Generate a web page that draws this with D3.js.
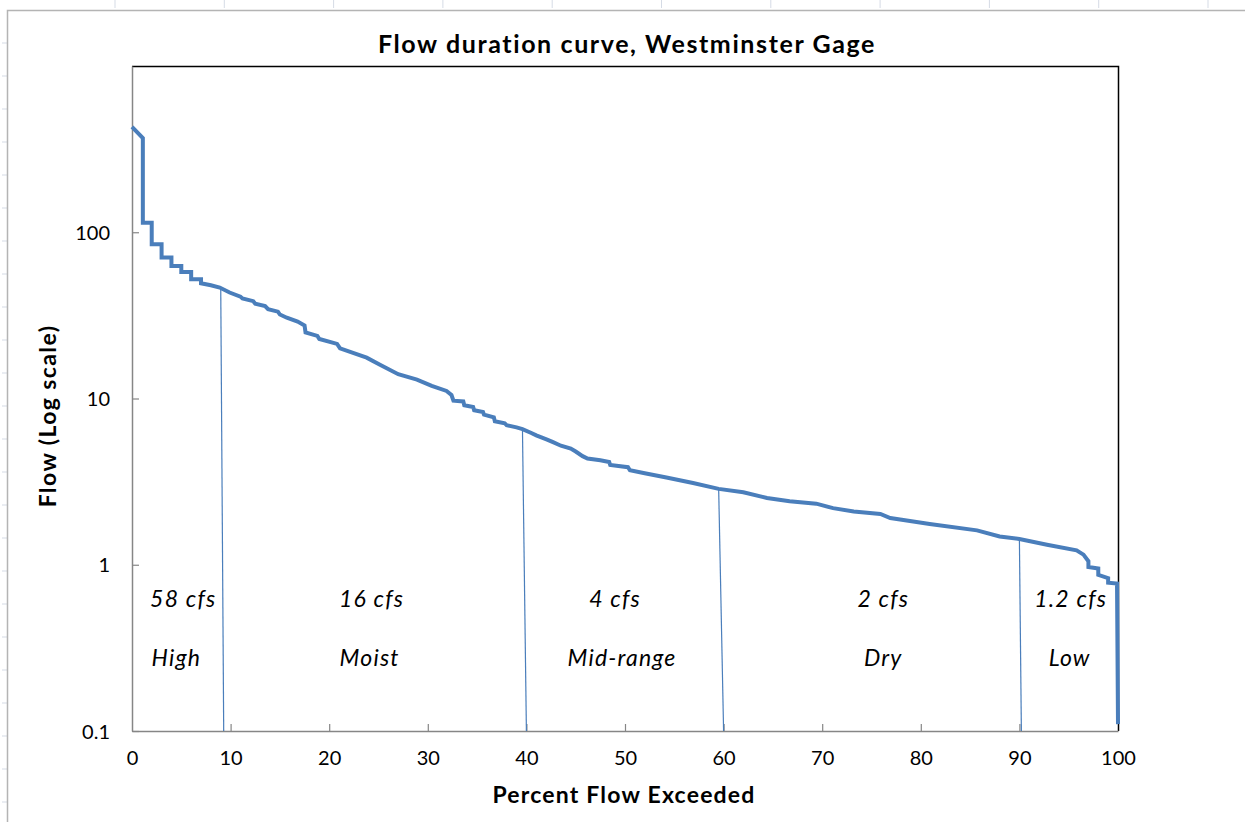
<!DOCTYPE html>
<html>
<head>
<meta charset="utf-8">
<script src="https://cdn.jsdelivr.net/npm/d3@7"></script>
<style>
  html, body { margin: 0; padding: 0; background: #ffffff; }
  svg { display: block; font-family: Lato, "Open Sans", sans-serif; }
</style>
</head>
<body>
<svg id="chart" width="1245" height="822"></svg>
<script>
// Flow duration curve: percent of time flow is exceeded vs. flow (cfs)
const pctExceeded = [
  0, 1.1, 1.1, 2.0, 2.0, 3.0, 3.0, 4.0, 4.0, 5.0, 5.0, 6.0, 6.0, 7.0, 7.0, 8.0, 8.9, 9.9,
  11.0, 11.2, 12.3, 12.5, 13.5, 13.8, 14.8, 15.0, 15.7, 16.8, 17.5, 17.6, 18.8, 19.0,
  20.8, 21.1, 23.8, 25.1, 27.0, 28.9, 30.4, 31.9, 32.4, 32.6, 33.6, 33.7, 34.6, 34.7,
  35.6, 35.7, 36.7, 36.8, 37.8, 38.0, 39.0, 39.6, 40.5, 41.0, 42.1, 42.7, 43.5, 44.5,
  45.0, 45.7, 46.2, 47.5, 48.4, 48.5, 50.3, 50.5, 52.0, 54.2, 56.9, 59.5, 62.0, 64.4,
  66.7, 69.4, 71.1, 73.2, 75.9, 76.9, 77.9, 80.9, 85.7, 88.0, 90.0, 92.8, 95.8, 96.5,
  97.0, 97.0, 98.0, 98.0, 99.0, 99.0, 99.9, 100.0
];
const flowCfs = [
  430, 368, 114, 114, 84.7, 84.7, 70.5, 70.5, 62.7, 62.7, 57.6, 57.6, 52.1, 52.1, 49.3, 48.0, 46.5, 43.4,
  41.0, 40.0, 38.5, 37.2, 36.0, 34.5, 33.3, 32.0, 30.6, 29.0, 27.5, 25.0, 23.8, 22.8,
  21.3, 20.0, 17.6, 16.0, 14.0, 13.0, 11.9, 11.1, 10.5, 9.7, 9.6, 9.1, 8.9, 8.5,
  8.3, 8.0, 7.7, 7.3, 7.1, 6.9, 6.7, 6.55, 6.2, 6.0, 5.66, 5.46, 5.2, 5.0,
  4.8, 4.5, 4.35, 4.25, 4.15, 3.98, 3.86, 3.70, 3.55, 3.35, 3.10, 2.86, 2.73, 2.52,
  2.41, 2.33, 2.19, 2.09, 2.02, 1.91, 1.87, 1.76, 1.61, 1.48, 1.43, 1.32, 1.22, 1.15,
  1.05, 0.97, 0.95, 0.87, 0.83, 0.78, 0.77, 0.11
];

// Flow-zone boundaries (drawn from the curve down to the axis)
const zoneTopPct = [9.0, 39.6, 59.5, 90.0];
const zoneBottomPct = [9.3, 40.0, 60.0, 90.2];
const zoneTopFlow = [46.3, 6.55, 2.86, 1.43];

// Flow-zone labels: median flow and zone name
const zoneNames = ["High", "Moist", "Mid-range", "Dry", "Low"];
const zoneMedians = ["58 cfs", "16 cfs", "4 cfs", "2 cfs", "1.2 cfs"];
const zoneNamePct = [4.5, 24.1, 49.7, 76.2, 95.1];
const zoneMedianPct = [5.2, 24.3, 49.0, 76.2, 95.2];
const zoneMedianFlowPos = 0.62;
const zoneNameFlowPos = 0.275;

const xTicks = [0, 10, 20, 30, 40, 50, 60, 70, 80, 90, 100];
const yTicks = [0.1, 1, 10, 100];

const svg = d3.select("#chart");
const W = 1245, H = 822;
const plot = { left: 132, right: 1118, top: 66, bottom: 731 };
const blue = "#4a7ebb";
const axisGray = "#868686";

// worksheet cell gridlines visible around the chart object
const sheet = svg.append("g");
d3.range(115, W, 109.3).forEach(x => {
  sheet.append("line").attr("x1", x).attr("x2", x).attr("y1", 0).attr("y2", 8)
    .attr("stroke", "#d5dbe5").attr("stroke-width", 1);
});
d3.range(802, 12, -33).forEach(y => {
  sheet.append("line").attr("x1", 2).attr("x2", 7).attr("y1", y).attr("y2", y)
    .attr("stroke", "#d5dbe5").attr("stroke-width", 1);
});
// chart area border
sheet.append("path")
  .attr("d", `M7.5,${H + 2} V10.5 H${W + 2}`)
  .attr("fill", "none").attr("stroke", "#b4b4b4").attr("stroke-width", 1.5);

const x = d3.scaleLinear().domain([0, 100]).range([plot.left, plot.right]);
const y = d3.scaleLog().domain([0.1, 1000]).range([plot.bottom, plot.top]);

// plot area frame: top and right edges
svg.append("path")
  .attr("d", `M${plot.left},${plot.top + 0.5} H${plot.right + 0.5} V${plot.bottom}`)
  .attr("fill", "none").attr("stroke", "#000").attr("stroke-width", 1.5);

// axes
const xAxis = d3.axisBottom(x).tickValues(xTicks).tickFormat(d3.format("d"))
  .tickSizeInner(-7).tickSizeOuter(0).tickPadding(20);
const yAxis = d3.axisLeft(y).tickValues(yTicks).tickFormat(d => String(d))
  .tickSizeInner(-7).tickSizeOuter(0).tickPadding(22);

const gx = svg.append("g").attr("transform", `translate(0,${plot.bottom})`).call(xAxis);
const gy = svg.append("g").attr("transform", `translate(${plot.left},0)`).call(yAxis);
[gx, gy].forEach(g => {
  g.select(".domain").attr("stroke", axisGray).attr("stroke-width", 1.5);
  g.selectAll(".tick line").attr("stroke", axisGray).attr("stroke-width", 1.2);
  g.selectAll(".tick text").attr("fill", "#000").style("font-size", "20px")
    .style("font-family", "Lato, sans-serif");
});
gy.selectAll(".tick text").attr("dy", "0.36em");
gx.selectAll(".tick").filter(d => d === 0 || d === 100).select("line").remove();

// zone boundary lines
zoneTopPct.forEach((p, i) => {
  svg.append("line")
    .attr("x1", x(p)).attr("y1", y(zoneTopFlow[i]))
    .attr("x2", x(zoneBottomPct[i])).attr("y2", y(0.1))
    .attr("stroke", blue).attr("stroke-width", 1.2);
});

// duration curve
const pts = pctExceeded.map((p, i) => [p, flowCfs[i]]);
const line = d3.line().x(d => x(d[0])).y(d => y(d[1]));
svg.append("path").datum(pts)
  .attr("d", line)
  .attr("fill", "none").attr("stroke", blue).attr("stroke-width", 4)
  .attr("stroke-linejoin", "miter");

// zone labels
const labels = svg.append("g").style("font-style", "italic").style("font-size", "23px")
  .style("letter-spacing", "1.2px").attr("text-anchor", "middle").attr("fill", "#000");
zoneMedians.forEach((t, i) => {
  labels.append("text").attr("x", x(zoneMedianPct[i])).attr("y", y(zoneMedianFlowPos))
    .attr("dy", "0.35em").text(t);
});
zoneNames.forEach((t, i) => {
  labels.append("text").attr("x", x(zoneNamePct[i])).attr("y", y(zoneNameFlowPos))
    .attr("dy", "0.35em").text(t);
});

// titles
svg.append("text").attr("x", 627).attr("y", 44).attr("dy", "0.35em")
  .attr("text-anchor", "middle").style("font-size", "25px").style("font-weight", "bold")
  .style("letter-spacing", "1.6px")
  .text("Flow duration curve, Westminster Gage");
svg.append("text").attr("x", 624).attr("y", 795).attr("dy", "0.35em")
  .attr("text-anchor", "middle").style("font-size", "23px").style("font-weight", "bold")
  .style("letter-spacing", "1.2px")
  .text("Percent Flow Exceeded");
svg.append("text").attr("transform", "translate(48,416) rotate(-90)").attr("dy", "0.35em")
  .attr("text-anchor", "middle").style("font-size", "23px").style("font-weight", "bold")
  .style("letter-spacing", "1.4px")
  .text("Flow (Log scale)");
</script>
</body>
</html>
